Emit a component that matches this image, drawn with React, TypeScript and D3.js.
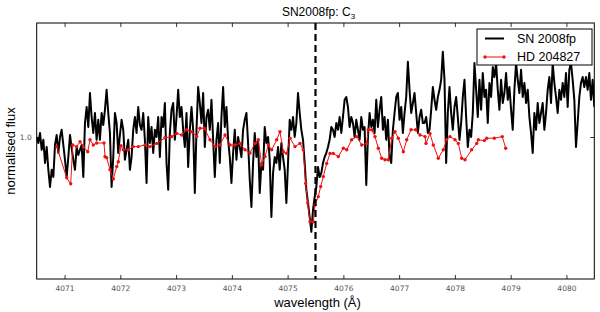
import React, { useEffect, useRef } from 'react';
import * as d3 from 'd3';

// axis ticks
const xTicks = [4071, 4072, 4073, 4074, 4075, 4076, 4077, 4078, 4079, 4080];
const yTicks = [1.0];
const lineCentre = 4075.5;

// SN 2008fp spectrum, evenly sampled from 4070.5 to 4080.5 A
const snFlux = [
  1.0, 0.985, 1.01, 0.968, 0.993, 0.935, 0.975, 0.918, 0.875, 0.918,
  0.9, 0.98, 1.005, 0.96, 1.0, 1.018, 0.98, 0.943, 0.9, 0.95,
  1.005, 0.973, 0.943, 0.918, 0.975, 0.955, 0.968, 0.98, 0.9, 1.035,
  1.075, 1.025, 1.11, 1.05, 1.01, 1.06, 0.993, 1.043, 0.993, 1.06,
  1.03, 1.068, 1.118, 1.06, 1.01, 0.875, 0.95, 1.06, 1.035, 0.96,
  1.005, 1.043, 1.018, 0.943, 0.968, 0.993, 0.918, 0.95, 1.018, 1.05,
  1.01, 1.075, 1.03, 1.018, 1.06, 0.993,
  0.885, 1.05, 0.985, 1.025, 0.96, 1.018, 1.0, 1.05, 0.95, 1.05,
  1.025, 1.085, 0.935, 0.868, 1.01, 1.068, 1.085, 0.993, 1.05, 1.118,
  1.05, 1.075, 1.018, 0.975, 1.06, 0.925, 1.018, 1.075, 1.018, 0.86,
  1.018, 1.125, 1.085, 1.035, 1.11, 0.975, 1.05, 1.068, 1.018, 1.093,
  0.993, 0.9, 0.993, 1.035, 0.935, 1.05, 1.125, 1.025, 1.075, 0.993,
  0.95, 0.885, 0.96, 1.018, 0.943, 1.0, 0.975, 0.95, 1.018, 1.043,
  1.06, 0.985, 0.893, 0.825, 0.935, 1.01,
  0.95, 0.993, 0.86, 0.935, 0.918, 1.025, 0.985, 1.0, 0.943, 0.8,
  0.91, 0.95, 0.935, 0.975, 0.918, 0.985, 0.95, 0.918, 0.835, 0.935,
  1.043, 1.018, 1.05, 1.0, 1.035, 1.11, 1.06, 1.018, 0.993, 0.935,
  0.868, 0.835, 0.8, 0.763, 0.818, 0.85, 0.875, 0.925, 0.9, 0.91,
  0.935, 0.95, 0.96, 0.975, 0.993, 1.025, 1.018, 1.0, 1.035, 1.018,
  1.05, 1.01, 1.05, 1.093, 1.1, 1.075, 1.025, 1.05, 1.035, 1.0,
  1.043, 1.018, 0.993, 1.05, 1.018, 1.025,
  0.88, 1.0, 1.06, 1.025, 1.043, 1.01, 1.093, 1.025, 1.068, 1.1,
  1.018, 1.05, 0.993, 1.043, 0.95, 0.935, 1.018, 1.06, 1.1, 1.11,
  1.043, 1.075, 1.01, 1.06, 1.1, 1.188, 1.118, 1.06, 1.085, 1.11,
  1.06, 1.01, 1.05, 1.068, 1.035, 1.035, 1.05, 1.01, 1.018, 1.068,
  1.125, 1.093, 1.068, 1.1, 1.118, 1.143, 1.213, 1.143, 0.935, 1.06,
  1.125, 1.06, 1.018, 1.075, 1.1, 1.05, 0.993, 1.035, 1.1, 1.143,
  1.05, 0.975, 1.018, 1.0, 1.06, 1.185,
  1.118, 1.05, 1.143, 1.068, 1.16, 1.1, 1.118, 1.035, 1.135, 1.1,
  1.175, 1.15, 1.185, 1.118, 1.068, 1.143, 1.085, 1.11, 1.16, 1.093,
  1.125, 1.068, 1.018, 1.118, 1.185, 1.143, 1.11, 1.168, 1.1, 1.135,
  1.085, 1.118, 1.05, 1.01, 0.96, 1.06, 1.018, 1.085, 1.035, 1.06,
  1.085, 1.018, 1.06, 1.118, 1.15, 1.085, 1.185, 1.135, 1.1, 1.06,
  1.118, 1.093, 1.135, 1.1, 1.16, 1.075, 1.168, 1.185, 1.143, 1.093,
  0.975, 1.035, 1.1, 1.135, 1.15, 1.125, 1.15, 1.118, 1.16, 1.093,
  1.143, 1.075,
];
const snStart = 4070.5;
const snEnd = 4080.5;

// HD 204827 template
const hdWave = [
  4070.859, 4071.038, 4071.110, 4071.146, 4071.217, 4071.277, 4071.336, 4071.415, 4071.456, 4071.515,
  4071.576, 4071.707, 4071.725, 4071.755, 4071.815, 4071.874, 4071.935, 4071.963, 4072.012, 4072.053,
  4072.143, 4072.232, 4072.322, 4072.442, 4072.532, 4072.652, 4072.801, 4072.921, 4073.011, 4073.100,
  4073.190, 4073.280, 4073.369, 4073.429, 4073.506, 4073.608, 4073.698, 4073.787, 4073.877, 4073.967,
  4074.056, 4074.146, 4074.236, 4074.325, 4074.415, 4074.474, 4074.535, 4074.594, 4074.654, 4074.714,
  4074.804, 4074.863, 4074.923, 4074.983, 4075.043, 4075.132, 4075.222, 4075.281, 4075.324, 4075.360,
  4075.401, 4075.461, 4075.491, 4075.550, 4075.593, 4075.640, 4075.701, 4075.760, 4075.819, 4075.909,
  4075.999, 4076.060, 4076.149, 4076.239, 4076.329, 4076.418, 4076.447, 4076.508, 4076.567, 4076.626,
  4076.687, 4076.746, 4076.806, 4076.867, 4076.926, 4076.985, 4077.075, 4077.136, 4077.213, 4077.297,
  4077.374, 4077.464, 4077.482, 4077.553, 4077.613, 4077.702, 4077.792, 4077.853, 4077.912, 4078.002,
  4078.061, 4078.122, 4078.181, 4078.301, 4078.391, 4078.420, 4078.527, 4078.570, 4078.707, 4078.850,
  4078.911,
];
const hdFlux = [
  0.976, 0.898, 0.883, 0.98, 0.976, 0.988, 0.976, 0.963, 0.993, 0.98,
  0.985, 0.985, 0.951, 0.948, 0.918, 0.895, 0.926, 0.938, 0.978, 0.968,
  0.968, 0.976, 0.976, 0.98, 0.976, 0.984, 0.998, 1.001, 1.009, 1.005,
  1.018, 1.013, 1.001, 1.022, 1.022, 0.993, 0.976, 0.98, 1.005, 0.98,
  0.98, 0.984, 0.968, 0.96, 0.984, 0.993, 0.93, 0.951, 0.98, 0.968,
  0.993, 1.013, 0.963, 0.959, 0.997, 0.976, 0.984, 0.968, 0.884, 0.835,
  0.788, 0.788, 0.83, 0.851, 0.876, 0.901, 0.934, 0.959, 0.959, 0.951,
  0.972, 0.968, 0.993, 1.001, 0.98, 0.984, 1.018, 1.018, 1.001, 0.972,
  0.947, 0.943, 0.943, 0.997, 1.013, 0.997, 0.963, 0.993, 1.018, 1.018,
  1.005, 1.001, 0.984, 1.009, 0.98, 0.947, 0.968, 0.993, 1.001, 0.993,
  0.984, 0.947, 0.943, 0.968, 0.984, 0.993, 0.991, 0.997, 0.997, 1.001,
  0.972,
];

const legendItems = ['SN 2008fp', 'HD 204827'];

const font = 'Liberation Sans, Arial, sans-serif';

const App = () => {
  const chartRef = useRef<SVGSVGElement>(null);

  useEffect(() => {
    drawChart();
    // eslint-disable-next-line react-hooks/exhaustive-deps
  }, []);

  const drawChart = () => {
    const svg = d3.select(chartRef.current);
    svg.selectAll('*').remove();

    const left = 36.7, right = 594.3, top = 23, bottom = 279;

    const x = d3.scaleLinear().domain([snStart, snEnd]).range([left, right]);
    const y = d3.scaleLinear().domain([0.645, 1.285]).range([bottom, top]);

    svg.append('defs').append('clipPath').attr('id', 'plot-area')
      .append('rect')
      .attr('x', left).attr('y', top)
      .attr('width', right - left).attr('height', bottom - top);

    const plot = svg.append('g').attr('clip-path', 'url(#plot-area)');

    const snData: [number, number][] = snFlux.map((f, i) =>
      [snStart + (i * (snEnd - snStart)) / (snFlux.length - 1), f]);
    const hdData: [number, number][] = hdWave.map((w, i) => [w, hdFlux[i]]);

    const line = d3.line<[number, number]>()
      .x(d => x(d[0]))
      .y(d => y(d[1]));

    // SN spectrum
    plot.append('path')
      .datum(snData)
      .attr('d', line)
      .attr('fill', 'none')
      .attr('stroke', '#000')
      .attr('stroke-width', 2)
      .attr('stroke-linejoin', 'round');

    // template
    plot.append('path')
      .datum(hdData)
      .attr('d', line)
      .attr('fill', 'none')
      .attr('stroke', '#ee1111')
      .attr('stroke-width', 1);

    plot.selectAll('circle.hd')
      .data(hdData)
      .enter()
      .append('circle')
      .attr('class', 'hd')
      .attr('cx', d => x(d[0]))
      .attr('cy', d => y(d[1]))
      .attr('r', 1.7)
      .attr('fill', '#ee1111');

    // C3 line position
    plot.append('line')
      .attr('x1', x(lineCentre)).attr('x2', x(lineCentre))
      .attr('y1', top).attr('y2', bottom)
      .attr('stroke', '#000')
      .attr('stroke-width', 2.2)
      .attr('stroke-dasharray', '7,4');

    // axes (ticks pointing inwards)
    const styleAxis = (g: d3.Selection<SVGGElement, unknown, null, undefined>) => {
      g.select('.domain').remove();
      g.selectAll('.tick line').attr('stroke', '#000').attr('stroke-width', 0.8);
      g.selectAll('.tick text')
        .attr('font-family', 'DejaVu Sans, sans-serif')
        .attr('font-size', 7.5)
        .attr('fill', '#555');
    };

    svg.append('g')
      .attr('transform', `translate(0,${bottom})`)
      .call(d3.axisBottom(x).tickValues(xTicks).tickSize(-4).tickPadding(7).tickFormat(d3.format('d')))
      .call(styleAxis);

    svg.append('g')
      .attr('transform', `translate(0,${top})`)
      .call(d3.axisTop(x).tickValues(xTicks).tickSize(-4).tickFormat(() => ''))
      .call(styleAxis);

    svg.append('g')
      .attr('transform', `translate(${left},0)`)
      .call(d3.axisLeft(y).tickValues(yTicks).tickSize(-4).tickPadding(5).tickFormat(d3.format('.1f')))
      .call(styleAxis);

    svg.append('g')
      .attr('transform', `translate(${right},0)`)
      .call(d3.axisRight(y).tickValues(yTicks).tickSize(-4).tickFormat(() => ''))
      .call(styleAxis);

    // frame
    svg.append('rect')
      .attr('x', left).attr('y', top)
      .attr('width', right - left).attr('height', bottom - top)
      .attr('fill', 'none')
      .attr('stroke', '#000')
      .attr('stroke-width', 1);

    // title
    const title = svg.append('text')
      .attr('x', (left + right) / 2 + 3)
      .attr('y', 16)
      .attr('text-anchor', 'middle')
      .attr('font-family', font)
      .attr('font-size', 12);
    title.append('tspan').text('SN2008fp: C');
    title.append('tspan').attr('font-size', 8).attr('dy', 2.5).text('3');

    // axis labels
    svg.append('text')
      .attr('x', (left + right) / 2 + 2)
      .attr('y', 307)
      .attr('text-anchor', 'middle')
      .attr('font-family', font)
      .attr('font-size', 13)
      .text('wavelength (Å)');

    svg.append('text')
      .attr('transform', `translate(15,${(top + bottom) / 2}) rotate(-90)`)
      .attr('text-anchor', 'middle')
      .attr('font-family', font)
      .attr('font-size', 13)
      .text('normalised flux');

    // legend
    const lg = svg.append('g');
    lg.append('rect')
      .attr('x', 477).attr('y', 29)
      .attr('width', 115).attr('height', 36)
      .attr('fill', '#fff')
      .attr('stroke', '#000')
      .attr('stroke-width', 1);

    legendItems.forEach((label, i) => {
      const ly = 38.5 + i * 18.5;
      const colour = i === 0 ? '#000' : '#ee1111';
      lg.append('line')
        .attr('x1', 485).attr('x2', 504)
        .attr('y1', ly).attr('y2', ly)
        .attr('stroke', colour)
        .attr('stroke-width', i === 0 ? 2 : 1);
      if (i === 1) {
        [485, 504].forEach(cx => {
          lg.append('circle').attr('cx', cx).attr('cy', ly).attr('r', 1.7).attr('fill', colour);
        });
      }
      lg.append('text')
        .attr('x', 517)
        .attr('y', ly)
        .attr('dy', '0.35em')
        .attr('font-family', font)
        .attr('font-size', 12.5)
        .text(label);
    });
  };

  return (
    <svg
      ref={chartRef}
      width={600}
      height={312}
      style={{ position: 'absolute', left: 0, top: 0, background: '#fff' }}
    />
  );
};

export default App;
